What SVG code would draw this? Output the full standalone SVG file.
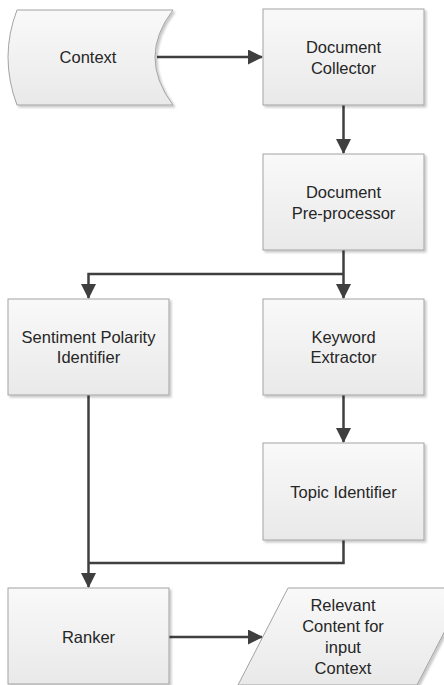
<svg xmlns="http://www.w3.org/2000/svg" width="444" height="685" viewBox="0 0 444 685">
  <style>
    .node { fill: url(#g); stroke: #a3a3a3; stroke-width: 1; filter: url(#sh); }
    .lbl { font-family: "Liberation Sans", Arial, sans-serif; font-size: 16.5px; fill: #262626; text-anchor: middle; }
    .edge { fill: none; stroke: #3f3f3f; stroke-width: 2.5; }
    .arr { marker-end: url(#ah); }
  </style>
  <defs>
    <linearGradient id="g" x1="0" y1="0" x2="0" y2="1">
      <stop offset="0" stop-color="#f9f9f9"/>
      <stop offset="1" stop-color="#e9e9e9"/>
    </linearGradient>
    <filter id="sh" x="-10%" y="-10%" width="125%" height="125%">
      <feDropShadow dx="2" dy="2" stdDeviation="1.2" flood-color="#000" flood-opacity="0.22"/>
    </filter>
    <marker id="ah" markerUnits="userSpaceOnUse" markerWidth="16" markerHeight="16" refX="14" refY="7.5" orient="auto">
      <path d="M0,0 L15,7.5 L0,15 Z" fill="#3f3f3f"/>
    </marker>
  </defs>
  <rect width="444" height="685" fill="#ffffff"/>

  <g id="connectors">
    <path class="edge arr" d="M157,57 H262"/>
    <path class="edge arr" d="M343.5,105 V153"/>
    <path class="edge arr" d="M343.5,250 V298"/>
    <path class="edge arr" d="M343.5,274 H88.5 V298"/>
    <path class="edge arr" d="M343.5,395 V442"/>
    <path class="edge arr" d="M88.5,395 V587"/>
    <path class="edge" d="M343.5,540 V563 H88.5"/>
    <path class="edge arr" d="M169,637 H262"/>
  </g>

  <g id="context">
    <path class="node" d="M17,10 L173,10 Q137,57 173,105 L17,105 Q-1,57 17,10 Z"/>
    <text class="lbl" x="88" y="63">Context</text>
  </g>
  <g id="document-collector">
    <rect class="node" x="263" y="9" width="161" height="96"/>
    <text class="lbl" x="343.5" y="52.5">Document</text>
    <text class="lbl" x="343.5" y="73.5">Collector</text>
  </g>
  <g id="document-preprocessor">
    <rect class="node" x="263" y="154" width="161" height="96"/>
    <text class="lbl" x="343.5" y="197.5">Document</text>
    <text class="lbl" x="343.5" y="218.5">Pre-processor</text>
  </g>
  <g id="sentiment-polarity-identifier">
    <rect class="node" x="8" y="299" width="161" height="96"/>
    <text class="lbl" x="88.5" y="342.5">Sentiment Polarity</text>
    <text class="lbl" x="88.5" y="363">Identifier</text>
  </g>
  <g id="keyword-extractor">
    <rect class="node" x="263" y="299" width="161" height="96"/>
    <text class="lbl" x="343.5" y="342.5">Keyword</text>
    <text class="lbl" x="343.5" y="363">Extractor</text>
  </g>
  <g id="topic-identifier">
    <rect class="node" x="263" y="443" width="161" height="97"/>
    <text class="lbl" x="343.5" y="497.5">Topic Identifier</text>
  </g>
  <g id="ranker">
    <rect class="node" x="8" y="588" width="161" height="96"/>
    <text class="lbl" x="88.5" y="642.5">Ranker</text>
  </g>
  <g id="relevant-content">
    <path class="node" d="M288,588 L467,588 L417,685 L238,685 Z"/>
    <text class="lbl" x="343" y="610.5">Relevant</text>
    <text class="lbl" x="343" y="631.5">Content for</text>
    <text class="lbl" x="343" y="652.5">input</text>
    <text class="lbl" x="343" y="674">Context</text>
  </g>
</svg>
